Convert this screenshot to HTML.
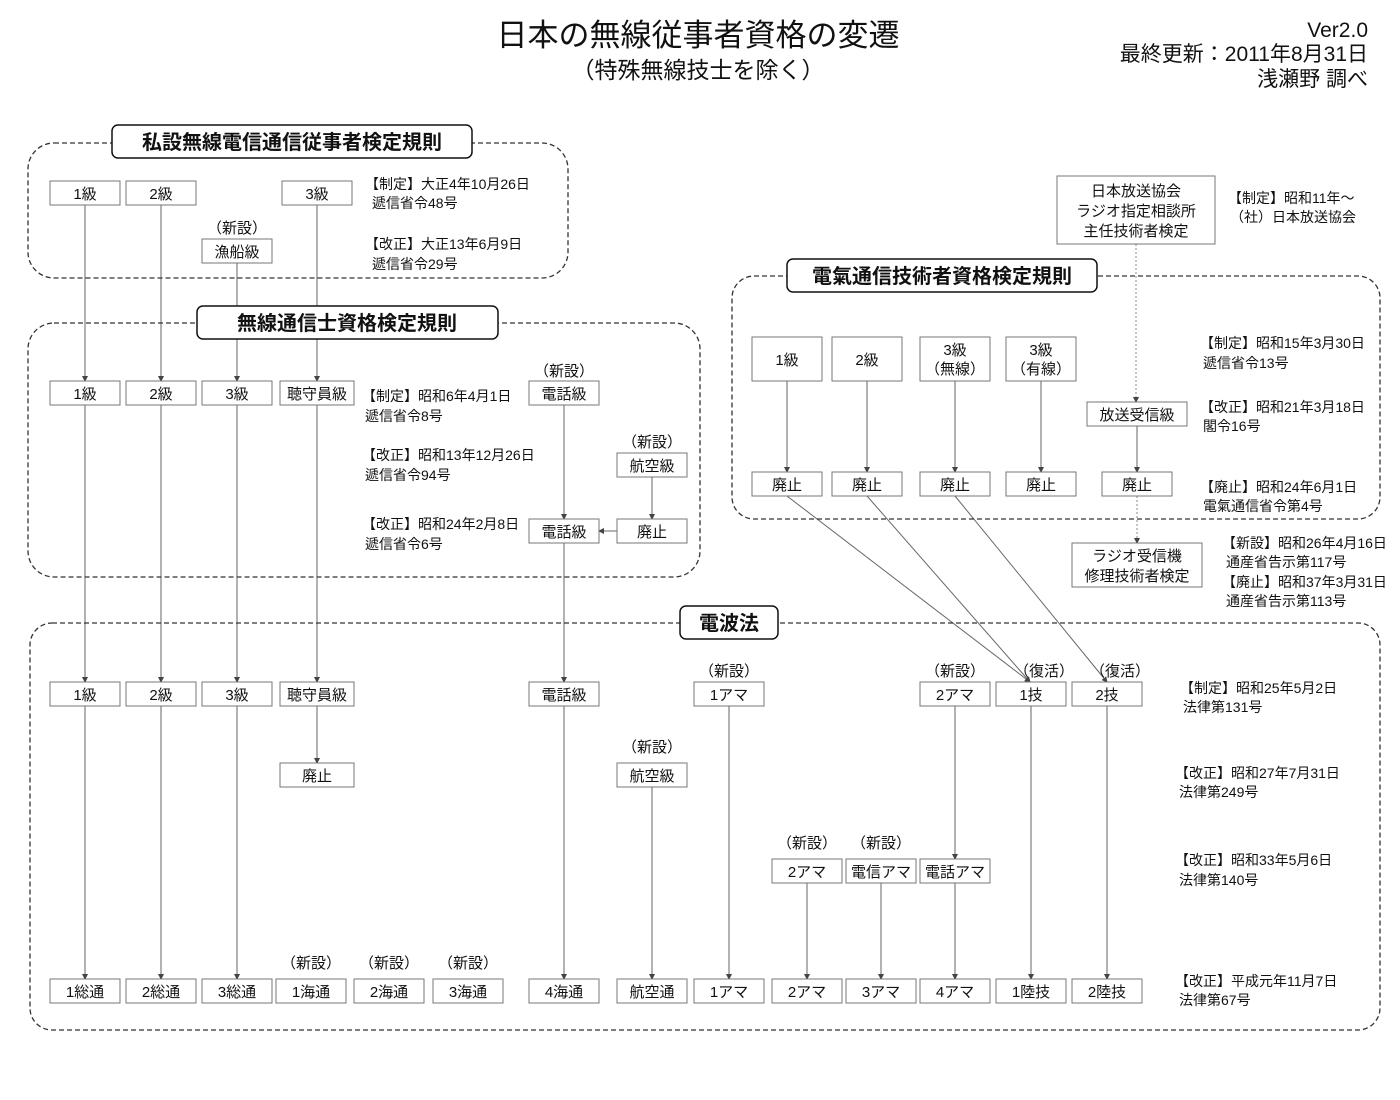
<!DOCTYPE html>
<html><head><meta charset="utf-8"><style>
body{margin:0;background:#fff}
svg{display:block;font-family:"Liberation Sans","Noto Sans CJK JP",sans-serif}
.b{fill:#fff;stroke:#777;stroke-width:1}
.d{fill:none;stroke:#333;stroke-width:1.3;stroke-dasharray:5,3}
.t{fill:#fff;stroke:#111;stroke-width:1.5}
.l{stroke:#666;stroke-width:1;fill:none}
.dt{stroke:#888;stroke-width:1;stroke-dasharray:2,2;fill:none}
text{fill:#111}
.c{text-anchor:middle;font-size:15px}
.n{font-size:14px}
.h{text-anchor:middle;font-size:20px;font-weight:bold}
</style></head><body>
<svg width="1400" height="1100" viewBox="0 0 1400 1100">
<defs><marker id="a" markerWidth="6" markerHeight="6" refX="5" refY="3" orient="auto" markerUnits="userSpaceOnUse"><path d="M0,0 L6,3 L0,6z" fill="#444"/></marker></defs>
<text x="698" y="46" text-anchor="middle" font-size="31">日本の無線従事者資格の変遷</text>
<text x="698" y="78" text-anchor="middle" font-size="23">（特殊無線技士を除く）</text>
<text x="1368" y="37" text-anchor="end" font-size="21">Ver2.0</text>
<text x="1368" y="61" text-anchor="end" font-size="21">最終更新：2011年8月31日</text>
<text x="1368" y="86" text-anchor="end" font-size="21">浅瀬野 調べ</text>

<!-- lines -->
<g class="l" marker-end="url(#a)">
<path d="M85,205V381"/><path d="M161,205V381"/><path d="M237,263V381"/><path d="M317,205V381"/>
<path d="M85,405V682"/><path d="M161,405V682"/><path d="M237,405V682"/><path d="M317,405V682"/>
<path d="M564,405V519"/><path d="M652,477V519"/><path d="M617,531H599"/><path d="M564,543V682"/>
<path d="M317,706V763"/>
<path d="M85,706V979"/><path d="M161,706V979"/><path d="M237,706V979"/>
<path d="M564,706V979"/><path d="M652,787V979"/><path d="M729,706V979"/>
<path d="M955,706V859"/><path d="M807,883V979"/><path d="M881,883V979"/><path d="M955,883V979"/>
<path d="M1031,706V979"/><path d="M1107,706V979"/>
<path d="M787,381V472"/><path d="M867,381V472"/><path d="M955,381V472"/><path d="M1041,381V472"/><path d="M1137,426V472"/>
<path d="M787,496L1030,682"/><path d="M867,496L1030,682"/><path d="M955,496L1107,682"/>
</g>
<g class="dt" marker-end="url(#a)"><path d="M1136,244V402"/><path d="M1137,496V543"/></g>

<!-- regions -->
<rect class="d" x="28" y="143" width="540" height="135" rx="26"/>
<rect class="d" x="28" y="323" width="672" height="254" rx="26"/>
<rect class="d" x="732" y="276" width="648" height="243" rx="22"/>
<rect class="d" x="30" y="623" width="1350" height="407" rx="22"/>
<rect class="t" x="112" y="125" width="360" height="33" rx="6"/><text class="h" x="292" y="149">私設無線電信通信従事者検定規則</text>
<rect class="t" x="197" y="306" width="301" height="33" rx="6"/><text class="h" x="347" y="330">無線通信士資格検定規則</text>
<rect class="t" x="787" y="259" width="310" height="33" rx="6"/><text class="h" x="942" y="283">電氣通信技術者資格検定規則</text>
<rect class="t" x="680" y="606" width="98" height="33" rx="6"/><text class="h" x="729" y="630">電波法</text>

<!-- boxes -->
<g>
<rect class="b" x="50" y="181" width="70" height="24"/><text class="c" x="85" y="199">1級</text>
<rect class="b" x="126" y="181" width="70" height="24"/><text class="c" x="161" y="199">2級</text>
<rect class="b" x="282" y="181" width="70" height="24"/><text class="c" x="317" y="199">3級</text>
<rect class="b" x="202" y="239" width="70" height="24"/><text class="c" x="237" y="257">漁船級</text>
<text class="c" x="237" y="233">（新設）</text>

<rect class="b" x="50" y="381" width="70" height="24"/><text class="c" x="85" y="399">1級</text>
<rect class="b" x="126" y="381" width="70" height="24"/><text class="c" x="161" y="399">2級</text>
<rect class="b" x="202" y="381" width="70" height="24"/><text class="c" x="237" y="399">3級</text>
<rect class="b" x="280" y="381" width="74" height="24"/><text class="c" x="317" y="399">聴守員級</text>
<rect class="b" x="529" y="381" width="70" height="24"/><text class="c" x="564" y="399">電話級</text>
<text class="c" x="564" y="376">（新設）</text>
<rect class="b" x="617" y="453" width="70" height="24"/><text class="c" x="652" y="471">航空級</text>
<text class="c" x="652" y="447">（新設）</text>
<rect class="b" x="617" y="519" width="70" height="24"/><text class="c" x="652" y="537">廃止</text>
<rect class="b" x="529" y="519" width="70" height="24"/><text class="c" x="564" y="537">電話級</text>

<rect class="b" x="752" y="337" width="70" height="44"/><text class="c" x="787" y="365">1級</text>
<rect class="b" x="832" y="337" width="70" height="44"/><text class="c" x="867" y="365">2級</text>
<rect class="b" x="920" y="337" width="70" height="44"/><text class="c" x="955" y="355">3級</text><text class="c" x="955" y="374">（無線）</text>
<rect class="b" x="1006" y="337" width="70" height="44"/><text class="c" x="1041" y="355">3級</text><text class="c" x="1041" y="374">（有線）</text>
<rect class="b" x="752" y="472" width="70" height="24"/><text class="c" x="787" y="490">廃止</text>
<rect class="b" x="832" y="472" width="70" height="24"/><text class="c" x="867" y="490">廃止</text>
<rect class="b" x="920" y="472" width="70" height="24"/><text class="c" x="955" y="490">廃止</text>
<rect class="b" x="1006" y="472" width="70" height="24"/><text class="c" x="1041" y="490">廃止</text>
<rect class="b" x="1087" y="402" width="100" height="24"/><text class="c" x="1137" y="420">放送受信級</text>
<rect class="b" x="1102" y="472" width="70" height="24"/><text class="c" x="1137" y="490">廃止</text>
<rect class="b" x="1057" y="176" width="158" height="68"/><text class="c" x="1136" y="196">日本放送協会</text><text class="c" x="1136" y="216">ラジオ指定相談所</text><text class="c" x="1136" y="236">主任技術者検定</text>
<rect class="b" x="1072" y="543" width="130" height="44"/><text class="c" x="1137" y="561">ラジオ受信機</text><text class="c" x="1137" y="581">修理技術者検定</text>

<rect class="b" x="50" y="682" width="70" height="24"/><text class="c" x="85" y="700">1級</text>
<rect class="b" x="126" y="682" width="70" height="24"/><text class="c" x="161" y="700">2級</text>
<rect class="b" x="202" y="682" width="70" height="24"/><text class="c" x="237" y="700">3級</text>
<rect class="b" x="280" y="682" width="74" height="24"/><text class="c" x="317" y="700">聴守員級</text>
<rect class="b" x="529" y="682" width="70" height="24"/><text class="c" x="564" y="700">電話級</text>
<rect class="b" x="694" y="682" width="70" height="24"/><text class="c" x="729" y="700">1アマ</text><text class="c" x="729" y="676">（新設）</text>
<rect class="b" x="920" y="682" width="70" height="24"/><text class="c" x="955" y="700">2アマ</text><text class="c" x="955" y="676">（新設）</text>
<rect class="b" x="996" y="682" width="70" height="24"/><text class="c" x="1031" y="700">1技</text><text class="c" x="1044" y="676">（復活）</text>
<rect class="b" x="1072" y="682" width="70" height="24"/><text class="c" x="1107" y="700">2技</text><text class="c" x="1120" y="676">（復活）</text>
<rect class="b" x="280" y="763" width="74" height="24"/><text class="c" x="317" y="781">廃止</text>
<rect class="b" x="617" y="763" width="70" height="24"/><text class="c" x="652" y="781">航空級</text><text class="c" x="652" y="752">（新設）</text>
<rect class="b" x="772" y="859" width="70" height="24"/><text class="c" x="807" y="877">2アマ</text><text class="c" x="807" y="848">（新設）</text>
<rect class="b" x="846" y="859" width="70" height="24"/><text class="c" x="881" y="877">電信アマ</text><text class="c" x="881" y="848">（新設）</text>
<rect class="b" x="920" y="859" width="70" height="24"/><text class="c" x="955" y="877">電話アマ</text>

<rect class="b" x="50" y="979" width="70" height="24"/><text class="c" x="85" y="997">1総通</text>
<rect class="b" x="126" y="979" width="70" height="24"/><text class="c" x="161" y="997">2総通</text>
<rect class="b" x="202" y="979" width="70" height="24"/><text class="c" x="237" y="997">3総通</text>
<rect class="b" x="276" y="979" width="70" height="24"/><text class="c" x="311" y="997">1海通</text><text class="c" x="311" y="968">（新設）</text>
<rect class="b" x="354" y="979" width="70" height="24"/><text class="c" x="389" y="997">2海通</text><text class="c" x="389" y="968">（新設）</text>
<rect class="b" x="433" y="979" width="70" height="24"/><text class="c" x="468" y="997">3海通</text><text class="c" x="468" y="968">（新設）</text>
<rect class="b" x="529" y="979" width="70" height="24"/><text class="c" x="564" y="997">4海通</text>
<rect class="b" x="617" y="979" width="70" height="24"/><text class="c" x="652" y="997">航空通</text>
<rect class="b" x="694" y="979" width="70" height="24"/><text class="c" x="729" y="997">1アマ</text>
<rect class="b" x="772" y="979" width="70" height="24"/><text class="c" x="807" y="997">2アマ</text>
<rect class="b" x="846" y="979" width="70" height="24"/><text class="c" x="881" y="997">3アマ</text>
<rect class="b" x="920" y="979" width="70" height="24"/><text class="c" x="955" y="997">4アマ</text>
<rect class="b" x="996" y="979" width="70" height="24"/><text class="c" x="1031" y="997">1陸技</text>
<rect class="b" x="1072" y="979" width="70" height="24"/><text class="c" x="1107" y="997">2陸技</text>
</g>

<!-- notes -->
<g class="n">
<text x="365" y="189">【制定】大正4年10月26日</text><text x="372" y="208">遞信省令48号</text>
<text x="365" y="249">【改正】大正13年6月9日</text><text x="372" y="269">遞信省令29号</text>
<text x="362" y="401">【制定】昭和6年4月1日</text><text x="365" y="421">遞信省令8号</text>
<text x="362" y="460">【改正】昭和13年12月26日</text><text x="365" y="480">遞信省令94号</text>
<text x="362" y="529">【改正】昭和24年2月8日</text><text x="365" y="549">遞信省令6号</text>
<text x="1228" y="203">【制定】昭和11年～</text><text x="1230" y="222">（社）日本放送協会</text>
<text x="1200" y="348">【制定】昭和15年3月30日</text><text x="1203" y="368">遞信省令13号</text>
<text x="1200" y="412">【改正】昭和21年3月18日</text><text x="1203" y="431">閣令16号</text>
<text x="1200" y="492">【廃止】昭和24年6月1日</text><text x="1203" y="511">電氣通信省令第4号</text>
<text x="1222" y="548">【新設】昭和26年4月16日</text><text x="1226" y="567">通産省告示第117号</text>
<text x="1222" y="587">【廃止】昭和37年3月31日</text><text x="1226" y="606">通産省告示第113号</text>
<text x="1180" y="693">【制定】昭和25年5月2日</text><text x="1183" y="712">法律第131号</text>
<text x="1175" y="778">【改正】昭和27年7月31日</text><text x="1179" y="797">法律第249号</text>
<text x="1175" y="865">【改正】昭和33年5月6日</text><text x="1179" y="885">法律第140号</text>
<text x="1175" y="986">【改正】平成元年11月7日</text><text x="1179" y="1005">法律第67号</text>
</g>
</svg>
</body></html>
